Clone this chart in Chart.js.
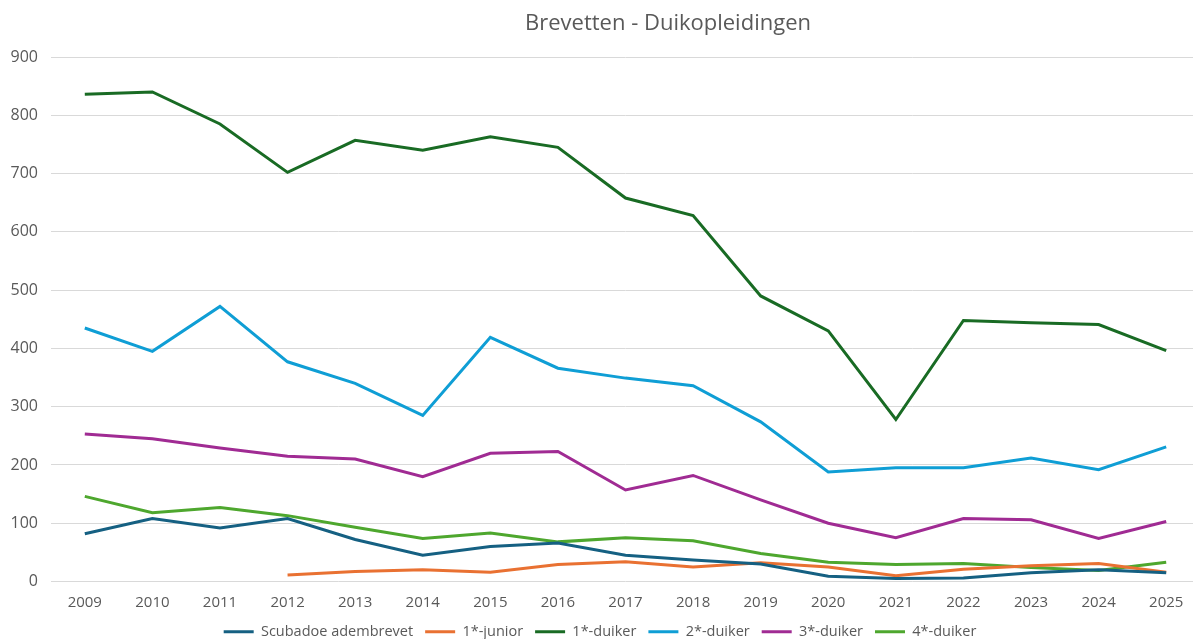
<!DOCTYPE html>
<html>
<head>
<meta charset="utf-8">
<script src="https://cdn.jsdelivr.net/npm/chart.js@4.4.1/dist/chart.umd.min.js"></script>
<style>
  html, body { margin: 0; padding: 0; background: #fff; overflow: hidden; }
  #wrap { position: relative; width: 1200px; height: 639px; overflow: hidden; }
  #title {
    position: absolute; top: 6px; left: 418px; width: 500px; text-align: center;
    font-family: 'Open Sans', sans-serif; font-size: 22px; color: #595959;
  }
</style>
</head>
<body>
<div id="wrap">
  <canvas id="brevetChart" width="1200" height="649"></canvas>
  <div id="title">Brevetten - Duikopleidingen</div>
</div>
<script>
const years = ['2009', '2010', '2011', '2012', '2013', '2014', '2015', '2016', '2017', '2018', '2019', '2020', '2021', '2022', '2023', '2024', '2025'];

const scubadoe = [82, 108, 92, 108, 72, 45, 60, 66, 45, 37, 30, 9, 5, 6, 15, 20, 15];
const junior1 = [null, null, null, 11, 17, 20, 16, 29, 34, 25, 32, 25, 10, 21, 27, 31, 16];
const duiker1 = [836, 840, 785, 702, 757, 740, 763, 745, 658, 628, 490, 430, 278, 448, 444, 441, 396];
const duiker2 = [435, 395, 472, 377, 340, 285, 419, 366, 349, 336, 274, 188, 195, 195, 212, 192, 231];
const duiker3 = [253, 245, 229, 215, 210, 180, 220, 223, 157, 182, 140, 100, 75, 108, 106, 74, 103];
const duiker4 = [146, 118, 127, 113, 93, 74, 83, 68, 75, 70, 48, 33, 29, 31, 24, 19, 33];

const ctx = document.getElementById('brevetChart');

function serie(label, data, color) {
    return {
        label: label,
        data: data,
        borderColor: color,
        backgroundColor: color,
        borderWidth: 3,
        pointRadius: 0,
        pointHoverRadius: 0,
        pointStyle: 'line',
        tension: 0,
        spanGaps: false
    };
}

new Chart(ctx, {
    type: 'line',
    data: {
        labels: years,
        datasets: [
            serie('Scubadoe adembrevet', scubadoe, '#156082'),
            serie('1*-junior', junior1, '#E97132'),
            serie('1*-duiker', duiker1, '#196B24'),
            serie('2*-duiker', duiker2, '#0F9ED5'),
            serie('3*-duiker', duiker3, '#A02B93'),
            serie('4*-duiker', duiker4, '#4EA72E')
        ]
    },
    options: {
        responsive: false,
        animation: false,
        layout: {
            padding: { left: 0, right: 0, top: 57, bottom: 0 }
        },
        scales: {
            x: {
                offset: true,
                grid: { display: false, drawTicks: false },
                border: { display: false },
                ticks: {
                    color: '#595959',
                    font: { family: 'Open Sans', size: 15 },
                    padding: 12
                },
                afterFit: (scale) => { scale.height = 31; }
            },
            y: {
                min: 0,
                max: 900,
                grid: { color: '#d9d9d9', lineWidth: 1, drawTicks: false },
                border: { display: false },
                ticks: {
                    stepSize: 100,
                    color: '#595959',
                    font: { family: 'Open Sans', size: 16 },
                    padding: 13
                },
                afterFit: (scale) => { scale.width = 51; }
            }
        },
        plugins: {
            legend: {
                display: true,
                position: 'bottom',
                align: 'center',
                labels: {
                    color: '#595959',
                    font: { family: 'Open Sans', size: 14.5 },
                    usePointStyle: true,
                    pointStyleWidth: 30,
                    boxHeight: 10,
                    padding: 12
                }
            },
            tooltip: { enabled: false }
        }
    }
});
</script>
</body>
</html>
